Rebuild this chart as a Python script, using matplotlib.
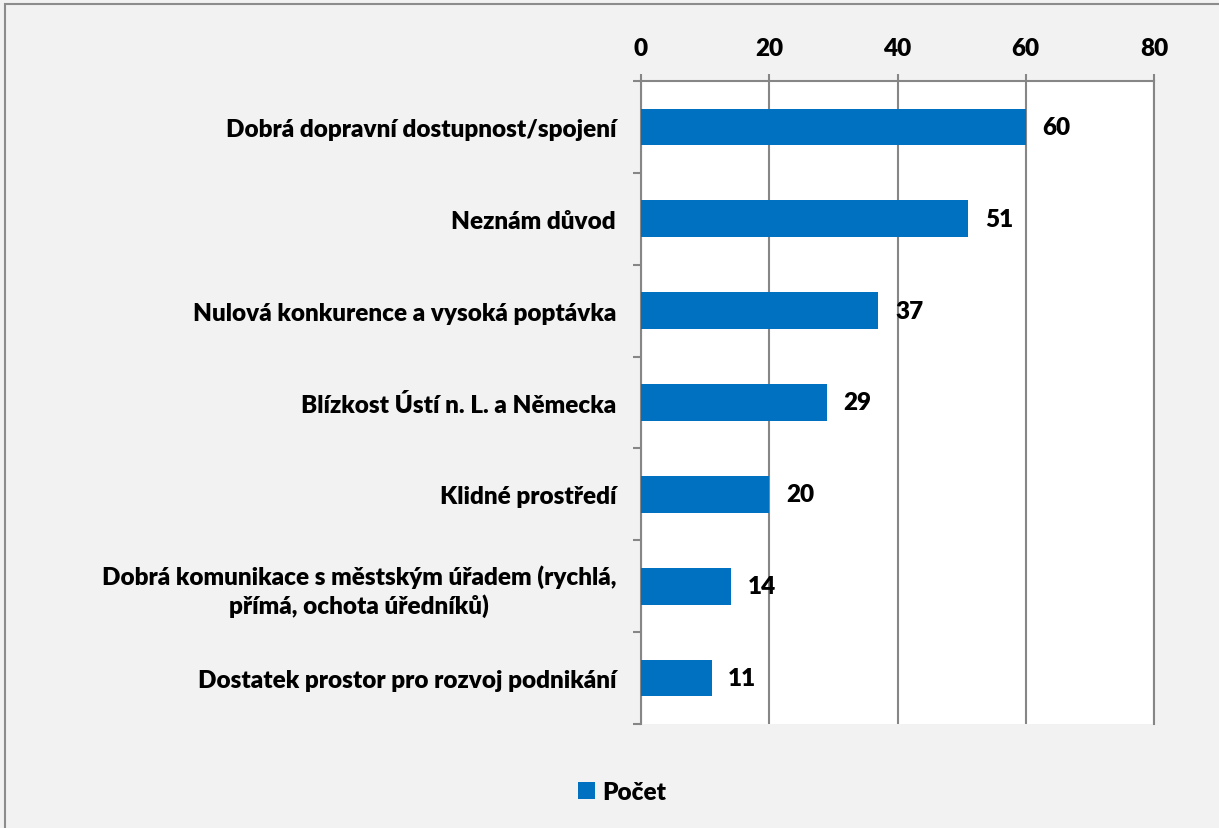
import matplotlib.pyplot as plt
import numpy as np
from matplotlib.patches import Patch, Rectangle

categories = [
    "Dobrá dopravní dostupnost/spojení",
    "Neznám důvod",
    "Nulová konkurence a vysoká poptávka",
    "Blízkost Ústí n. L. a Německa",
    "Klidné prostředí",
    "Dobrá komunikace s městským úřadem (rychlá,\npřímá, ochota úředníků)",
    "Dostatek prostor pro rozvoj podnikání",
]
counts = [60, 51, 37, 29, 20, 14, 11]
x_ticks = [0, 20, 40, 60, 80]
series_name = "Počet"

BAR_COLOR = "#0070C0"
GRID_COLOR = "#868686"
BG_COLOR = "#F2F2F2"
FS = 17.5
WEIGHT = "heavy"

plt.rcParams["font.family"] = ["Lato", "DejaVu Sans"]

W, H = 1219, 829
fig = plt.figure(figsize=(W / 100, H / 100), dpi=100, facecolor=BG_COLOR)

# outer chart frame
fig.patches.append(Rectangle((5 / W, -0.1), 1.2, 1 - 5 / H + 0.1, transform=fig.transFigure,
                             facecolor="none", edgecolor="#8C8C8C", linewidth=1.5))

left, right, top, bottom = 641, 1154, 82, 725
ax = fig.add_axes([left / W, 1 - bottom / H, (right - left) / W, (bottom - top) / H])
ax.set_facecolor("white")

y = np.arange(len(categories))
ax.barh(y, counts, height=0.4, color=BAR_COLOR, zorder=3)
for yi, v in zip(y, counts):
    ax.annotate(str(v), (v, yi), xytext=(12, 0), textcoords="offset points",
                va="center", ha="left", fontsize=FS, fontweight=WEIGHT, zorder=4)

ax.set_xlim(0, 80)
ax.set_ylim(len(categories) - 0.5, -0.5)
ax.set_xticks(x_ticks)
ax.xaxis.tick_top()
ax.tick_params(axis="x", which="major", length=5, width=1.5, color=GRID_COLOR,
               labelsize=FS, pad=11, direction="out")
for lbl in ax.get_xticklabels():
    lbl.set_fontweight(WEIGHT)
ax.grid(axis="x", color=GRID_COLOR, linewidth=1.5, zorder=1)

ax.set_yticks(y)
ax.set_yticklabels(categories, fontsize=FS, fontweight=WEIGHT, ha="right",
                   multialignment="center", linespacing=1.25)
ax.set_yticks(np.arange(len(categories) + 1) - 0.5, minor=True)
ax.tick_params(axis="y", which="major", length=0, pad=18)
ax.tick_params(axis="y", which="minor", length=6, width=1.5, color=GRID_COLOR)

ax.spines["bottom"].set_visible(False)
for s in ["top", "left", "right"]:
    ax.spines[s].set_color(GRID_COLOR)
    ax.spines[s].set_linewidth(1.5)

handles = [Patch(facecolor=BAR_COLOR, label=series_name)]
fig.legend(handles=handles, loc="center", bbox_to_anchor=(622 / W, 1 - 793 / H),
           frameon=False, prop={"size": FS, "weight": WEIGHT}, handlelength=0.7,
           handleheight=0.7, handletextpad=0.3)

fig.savefig("out.png", dpi=100, facecolor=BG_COLOR)
